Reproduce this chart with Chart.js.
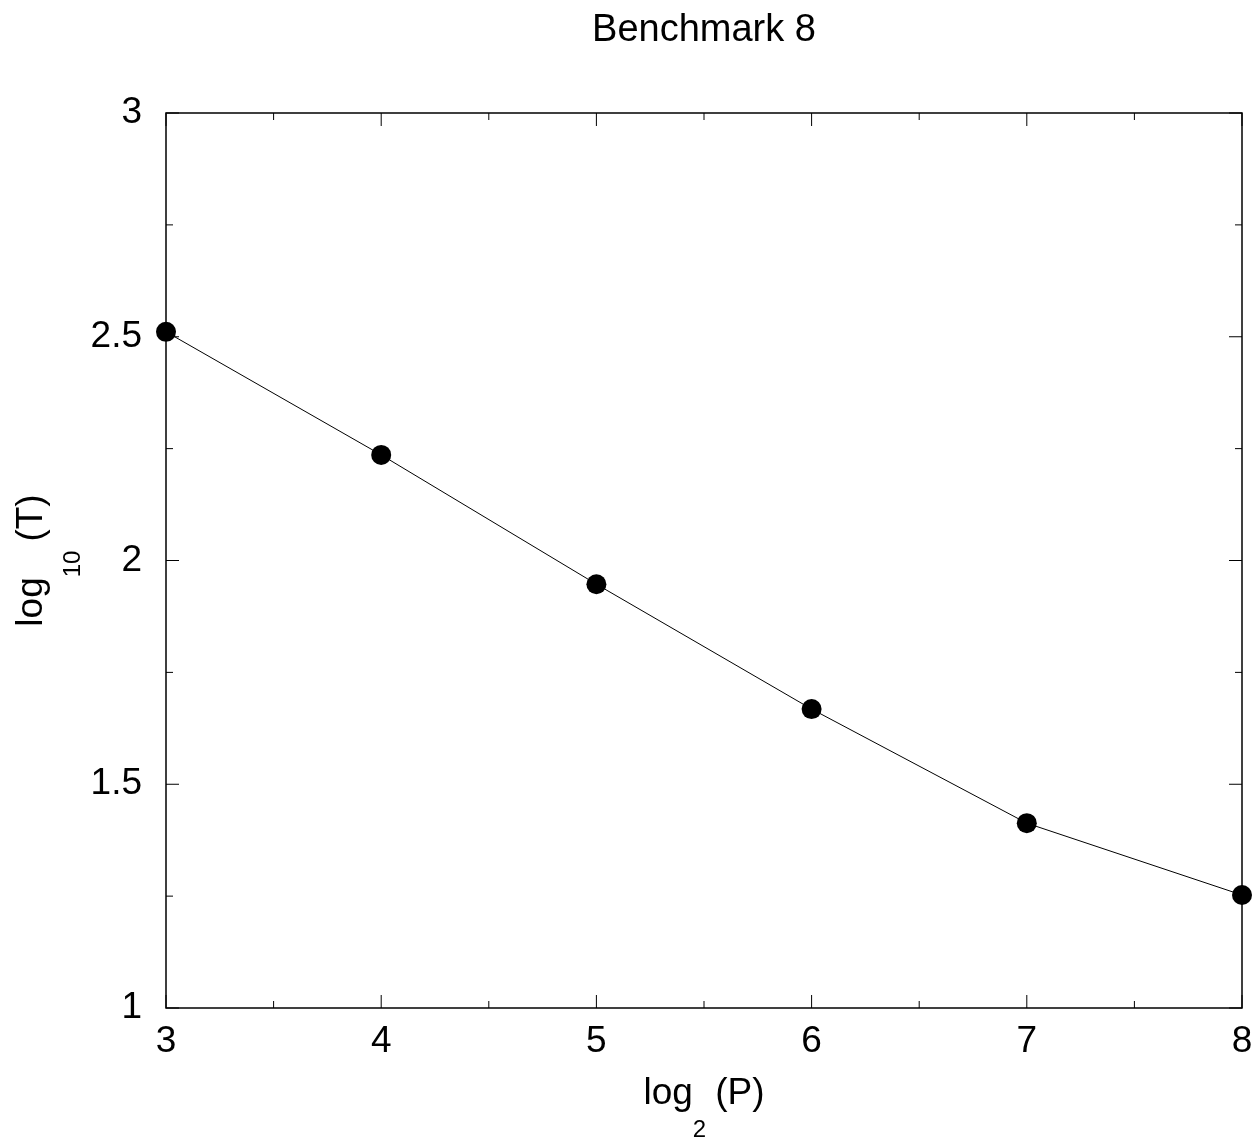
<!DOCTYPE html>
<html>
<head>
<meta charset="utf-8">
<script src="https://cdn.jsdelivr.net/npm/chart.js@4.4.1/dist/chart.umd.min.js"></script>
<style>
    html, body { margin: 0; padding: 0; background: #fff; }
    #wrap { width: 1255px; height: 1138px; }
</style>
</head>
<body>
<div id="wrap"><canvas id="chart" width="1255" height="1138"></canvas></div>
<script>
// log2(P) values and measured log10(T)
const xValues = [3, 4, 5, 6, 7, 8];
const yValues = [2.511, 2.236, 1.947, 1.668, 1.413, 1.2525];

const xMajorTicks = [3, 4, 5, 6, 7, 8];
const xMinorTicks = [3.5, 4.5, 5.5, 6.5, 7.5];
const yMajorTicks = [1, 1.5, 2, 2.5, 3];
const yMinorTicks = [1.25, 1.75, 2.25, 2.75];

const TITLE = "Benchmark 8";
const FONT = "'Liberation Sans', Arial, sans-serif";

// frame with inward ticks on all four sides, gnuplot style
const framePlugin = {
    id: "frame",
    beforeDatasetsDraw(chart) {
        const { ctx, chartArea: a, scales } = chart;
        ctx.save();
        ctx.strokeStyle = "#000";
        ctx.lineWidth = 1;
        const tick = (v, len, horiz) => {
            if (horiz) {
                const px = scales.x.getPixelForValue(v);
                ctx.beginPath();
                ctx.moveTo(px, a.bottom); ctx.lineTo(px, a.bottom - len);
                ctx.moveTo(px, a.top); ctx.lineTo(px, a.top + len);
                ctx.stroke();
            } else {
                const py = scales.y.getPixelForValue(v);
                ctx.beginPath();
                ctx.moveTo(a.left, py); ctx.lineTo(a.left + len, py);
                ctx.moveTo(a.right, py); ctx.lineTo(a.right - len, py);
                ctx.stroke();
            }
        };
        xMajorTicks.forEach(v => tick(v, 13, true));
        xMinorTicks.forEach(v => tick(v, 7, true));
        yMajorTicks.forEach(v => tick(v, 13, false));
        yMinorTicks.forEach(v => tick(v, 7, false));

        ctx.lineWidth = 1.5;
        ctx.strokeRect(a.left, a.top, a.right - a.left, a.bottom - a.top);
        ctx.restore();
    },
    afterDraw(chart) {
        const { ctx, chartArea: a } = chart;
        const cx = (a.left + a.right) / 2;
        ctx.save();
        ctx.fillStyle = "#000";
        ctx.textBaseline = "alphabetic";
        ctx.textAlign = "left";

        // title
        ctx.font = "38px " + FONT;
        const tw = ctx.measureText(TITLE).width;
        ctx.fillText(TITLE, cx - tw / 2, 41);

        // label with a lowered subscript
        const subLabel = (main, sub, tail, x0, base, shift) => {
            ctx.font = "37px " + FONT;
            const w1 = ctx.measureText(main).width;
            const w3 = ctx.measureText(tail).width;
            ctx.font = "24px " + FONT;
            const w2 = ctx.measureText(sub).width;
            const gap = 9;
            const total = w1 + w2 + gap + w3;
            let x = x0 - total / 2;
            ctx.font = "37px " + FONT;
            ctx.fillText(main, x, base);
            x += w1;
            ctx.font = "24px " + FONT;
            ctx.fillText(sub, x, base + shift);
            x += w2 + gap;
            ctx.font = "37px " + FONT;
            ctx.fillText(tail, x, base);
        };

        subLabel("log", "2", "(P)", cx, 1104, 33);

        ctx.translate(42, (a.top + a.bottom) / 2);
        ctx.rotate(-Math.PI / 2);
        subLabel("log", "10", "(T)", 0, 0, 38);
        ctx.restore();
    }
};

new Chart(document.getElementById("chart"), {
    type: "scatter",
    data: {
        datasets: [{
            data: xValues.map((x, i) => ({ x: x, y: yValues[i] })),
            showLine: true,
            borderColor: "#000",
            borderWidth: 1,
            backgroundColor: "#000",
            pointBackgroundColor: "#000",
            pointBorderColor: "#000",
            pointRadius: 10,
            pointBorderWidth: 0,
            clip: false,
        }],
    },
    options: {
        responsive: false,
        animation: false,
        devicePixelRatio: 1,
        layout: { padding: { left: 0, top: 113, right: 13, bottom: 0 } },
        plugins: {
            legend: { display: false },
            title: { display: false },
            tooltip: { enabled: false },
        },
        scales: {
            x: {
                type: "linear",
                min: 3,
                max: 8,
                grid: { display: false, drawTicks: false },
                border: { display: false },
                ticks: {
                    stepSize: 1,
                    padding: 12,
                    color: "#000",
                    font: { family: FONT, size: 37 },
                    maxRotation: 0,
                },
                afterFit(scale) {
                    scale.height = 130;
                    scale.paddingLeft = 0;
                    scale.paddingRight = 0;
                },
            },
            y: {
                type: "linear",
                min: 1,
                max: 3,
                grid: { display: false, drawTicks: false },
                border: { display: false },
                ticks: {
                    stepSize: 0.5,
                    padding: 24,
                    color: "#000",
                    font: { family: FONT, size: 37 },
                    callback: (v) => String(v),
                },
                afterFit(scale) {
                    scale.width = 166;
                    scale.paddingTop = 0;
                    scale.paddingBottom = 0;
                },
            },
        },
    },
    plugins: [framePlugin],
});
</script>
</body>
</html>
